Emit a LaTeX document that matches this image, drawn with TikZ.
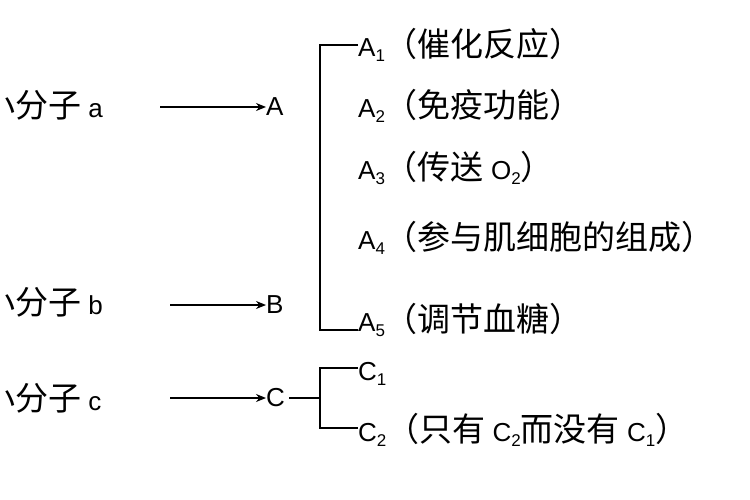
\documentclass[tikz,border=0pt]{standalone}
\usepackage{fontspec}
\usetikzlibrary{arrows.meta}
\setmainfont{Liberation Sans}
\newfontfamily\cjkf{Noto Sans CJK SC}
\newcommand{\cj}[1]{{\fontsize{33}{36}\cjkf #1}}
\newcommand{\sbs}[1]{\raisebox{-5pt}{\fontsize{17}{18}\selectfont #1}}
\begin{document}
\begin{tikzpicture}[x=1pt,y=-1pt,
  lab/.style={inner sep=0pt,anchor=west,font=\fontsize{26}{30}\selectfont},
  arr/.style={-{Stealth[length=10pt,width=8pt]},line width=1.2pt},
  ln/.style={line width=1.2pt}]
\useasboundingbox (0,0) rectangle (750,500);
\clip (0,0) rectangle (750,500);
\fill[white] (0,0) rectangle (750,500);
\node[lab] (sa) at (-18,105) {\cj{小分子} a};
\node[lab] (sb) at (-18,302) {\cj{小分子} b};
\node[lab] (sc) at (-18,398) {\cj{小分子} c};
\node[lab] (A) at (266,107) {A};
\node[lab] (B) at (266,305) {B};
\node[lab] (C) at (266,398) {C};
\draw[arr] (160,107) -- (A.west);
\draw[arr] (170,305) -- (B.west);
\draw[arr] (170,398) -- (C.west);
\node[lab] (a1) at (358,45) {A\sbs{1}\cj{（催化反应）}};
\node[lab] (a2) at (358,106) {A\sbs{2}\cj{（免疫功能）}};
\node[lab] (a3) at (358,168) {A\sbs{3}\cj{（传送} O\sbs{2}\cj{）}};
\node[lab] (a4) at (358,238) {A\sbs{4}\cj{（参与肌细胞的组成）}};
\node[lab] (a5) at (358,320) {A\sbs{5}\cj{（调节血糖）}};
\node[lab] (c1) at (358,374) {C\sbs{1}};
\node[lab] (c2) at (358,430) {C\sbs{2}\cj{（只有} C\sbs{2}\cj{而没有} C\sbs{1}\cj{）}};
\draw[ln] (a1.west) -- (320,45) -- (320,330) -- (a5.west|-0,330);
\draw[ln] (c1.west|-0,368) -- (320,368) -- (320,428) -- (c2.west|-0,428);
\draw[ln] (C.east) ++(4,0) -- (320,398);
\end{tikzpicture}
\end{document}
